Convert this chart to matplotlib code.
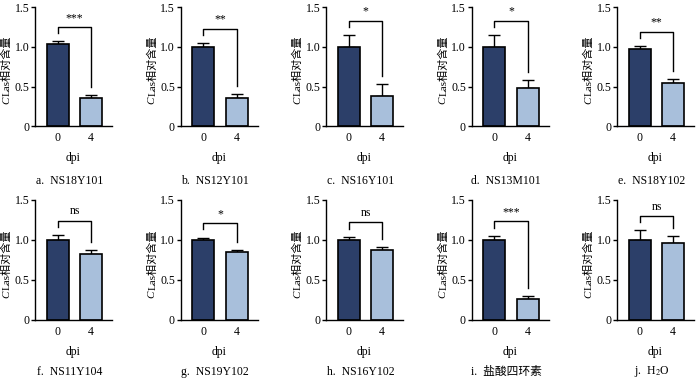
import matplotlib
matplotlib.use("Agg")
import matplotlib.pyplot as plt
import numpy as np

plt.rcParams['font.family'] = ['Liberation Serif', 'Noto Sans CJK SC', 'DejaVu Sans']
plt.rcParams['mathtext.fontset'] = 'stix'
plt.rcParams['font.size'] = 8.5

# data
captions = ['a.  NS18Y101', 'b.  NS12Y101', 'c.  NS16Y101', 'd.  NS13M101', 'e.  NS18Y102',
            'f.  NS11Y104', 'g.  NS19Y102', 'h.  NS16Y102', 'i.  盐酸四环素', 'j.  H$_2$O']
groups = ['0', '4']
mean0 = [1.03, 1.00, 1.00, 1.00, 0.97, 1.00, 1.00, 1.00, 1.00, 1.00]
mean4 = [0.35, 0.35, 0.38, 0.48, 0.54, 0.82, 0.85, 0.87, 0.26, 0.96]
err0 = [0.04, 0.05, 0.15, 0.15, 0.04, 0.06, 0.03, 0.04, 0.05, 0.12]
err4 = [0.04, 0.06, 0.15, 0.10, 0.05, 0.06, 0.03, 0.04, 0.04, 0.09]
signif = ['***', '**', '*', '*', '**', 'ns', '*', 'ns', '***', 'ns']

colors = ['#2C3F69', '#A8BFDB']

fig = plt.figure(figsize=(7, 3.8), dpi=100)

for i in range(10):
    row, col = divmod(i, 5)
    left = (35 + 145.5 * col) / 700
    if row == 0:
        bottom, height, cap_y = 0.668, 0.313, -0.46
    else:
        bottom, height, cap_y = 0.158, 0.316, -0.43
    ax = fig.add_axes([left, bottom, 77 / 700, height])

    x = np.arange(2)
    means = [mean0[i], mean4[i]]
    errs = [err0[i], err4[i]]
    ax.bar(x, means, width=0.66, color=colors, edgecolor='black', linewidth=1.2, zorder=2)
    ax.errorbar(x, means, yerr=[[0, 0], errs], fmt='none', ecolor='black',
                elinewidth=1.0, capsize=4, capthick=1.0, zorder=1)

    # significance bracket
    tops = [m + e for m, e in zip(means, errs)]
    ytop = max(tops) + 0.18
    ax.plot([0, 0, 1, 1], [tops[0] + 0.1, ytop, ytop, tops[1] + 0.1],
            color='black', linewidth=1.0, zorder=3)
    ax.text(0.5, ytop + 0.04, signif[i], ha='center', va='bottom', fontsize=8.5)

    ax.set_xlim(-0.68, 1.62)
    ax.set_ylim(0, 1.5)
    ax.set_yticks([0, 0.5, 1.0, 1.5])
    ax.set_yticklabels(['0', '0.5', '1.0', '1.5'])
    ax.set_xticks(x)
    ax.set_xticklabels(groups)
    ax.spines['top'].set_visible(False)
    ax.spines['right'].set_visible(False)
    ax.spines['left'].set_linewidth(1.0)
    ax.spines['bottom'].set_linewidth(1.0)
    ax.tick_params(axis='y', direction='out', length=3, width=1.0, pad=1)
    ax.tick_params(axis='x', direction='in', length=3, width=1.0, pad=4)
    ax.set_xlabel('dpi', labelpad=6)

    # y label: italic C followed by the rest
    ax.text(-0.37, 0.245, 'C', style='italic', rotation=90, transform=ax.transAxes,
            ha='center', va='top', fontsize=8)
    ax.text(-0.37, 0.25, 'Las相对含量', rotation=90, transform=ax.transAxes,
            ha='center', va='bottom', fontsize=8)

    ax.text(0.45, cap_y, captions[i], transform=ax.transAxes,
            ha='center', va='center', fontsize=8.5)

fig.savefig('out.png', dpi=100)
